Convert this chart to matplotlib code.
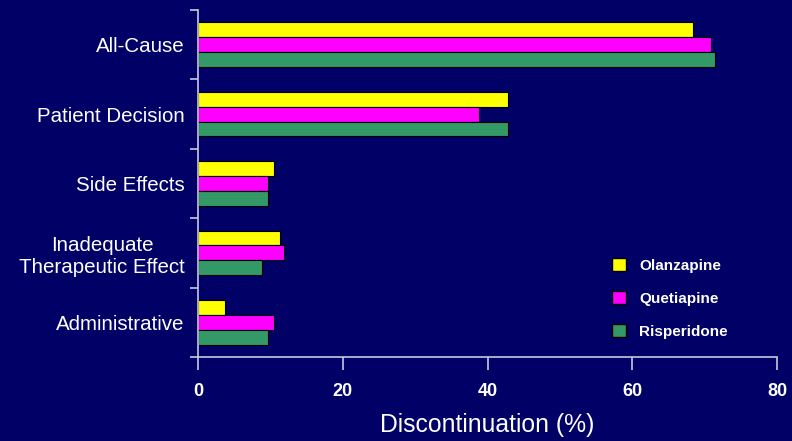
import numpy as np
import matplotlib
matplotlib.use("Agg")
import matplotlib.pyplot as plt
from matplotlib.patches import Patch
from matplotlib.ticker import FixedLocator

plt.rcParams['font.family'] = ['Liberation Sans', 'DejaVu Sans']

categories = ["All-Cause", "Patient Decision", "Side Effects",
              "Inadequate\nTherapeutic Effect", "Administrative"]
series_names = ["Olanzapine", "Quetiapine", "Risperidone"]
olanzapine = [68.4, 42.8, 10.5, 11.3, 3.7]
quetiapine = [70.9, 38.8, 9.7, 11.9, 10.5]
risperidone = [71.4, 42.8, 9.7, 8.9, 9.7]
x_ticks = [0, 20, 40, 60, 80]

colors = ["#FFFF00", "#FF00FF", "#339966"]
bg = "#000066"
axis_col = "#C8C8E0"

fig = plt.figure(figsize=(7.92, 4.41), dpi=100, facecolor=bg)
ax = fig.add_axes([198 / 792, 1 - 357 / 441, (777 - 198) / 792, (357 - 10) / 441])
ax.set_facecolor(bg)

n = len(categories)
y = np.arange(n)
h = 0.215
for i, (vals, c, name) in enumerate(zip([olanzapine, quetiapine, risperidone], colors, series_names)):
    ax.barh(y + (i - 1) * h, vals, height=h, color=c, edgecolor="black",
            linewidth=0.8, label=name)

ax.set_ylim(n - 0.5, -0.5)
ax.set_xlim(0, 80)
ax.set_xticks(x_ticks)
ax.set_xticklabels([str(t) for t in x_ticks])
ax.set_yticks(y)
ax.set_yticklabels(categories)
for lab in ax.get_yticklabels():
    lab.set_multialignment('center')
ax.yaxis.set_minor_locator(FixedLocator(np.arange(-0.5, n, 1.0)))

ax.tick_params(axis='y', which='major', length=0, pad=9.5, labelsize=14.8, labelcolor='white')
ax.tick_params(axis='y', which='minor', length=6, width=1.2, color=axis_col)
ax.tick_params(axis='x', which='major', length=9, width=1.2, color=axis_col, pad=10,
               labelsize=13, labelcolor='white')
for lab in ax.get_xticklabels():
    lab.set_fontweight('bold')

for side in ['top', 'right']:
    ax.spines[side].set_visible(False)
for side in ['left', 'bottom']:
    ax.spines[side].set_color(axis_col)
    ax.spines[side].set_linewidth(1.2)

ax.set_xlabel("Discontinuation (%)", color='white', fontsize=17.8, labelpad=9)

handles = [Patch(facecolor=c, edgecolor='black', label=s) for c, s in zip(colors, series_names)]
leg = ax.legend(handles=handles, loc='upper left', bbox_to_anchor=(0.715, 0.285),
                frameon=False, fontsize=11, labelcolor='white', borderpad=0, borderaxespad=0,
                handlelength=0.9, handleheight=0.9, labelspacing=1.2, handletextpad=0.9)
for t in leg.get_texts():
    t.set_fontweight('bold')

fig.savefig("out.png", dpi=100, facecolor=bg)
